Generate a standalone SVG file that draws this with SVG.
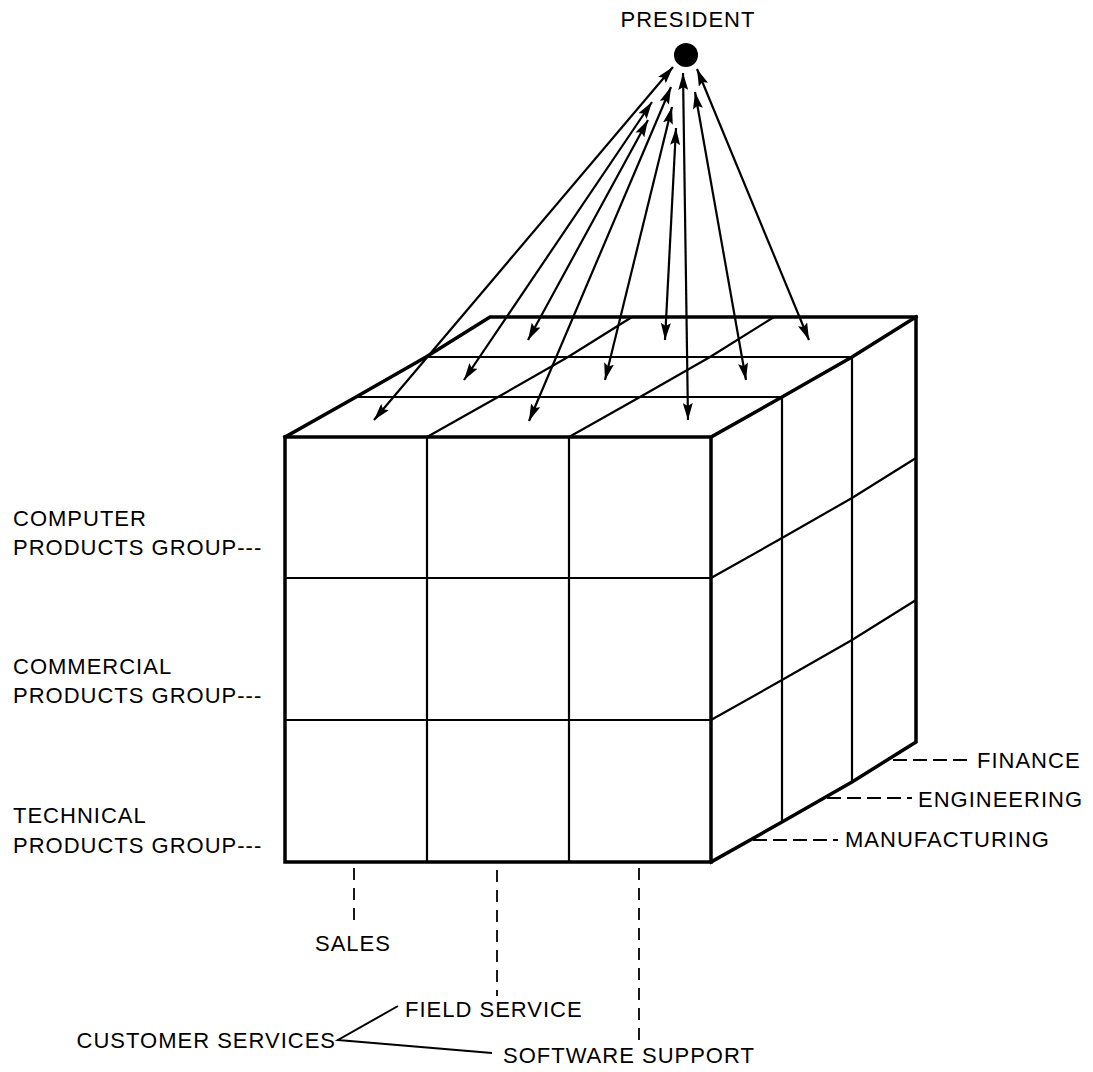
<svg xmlns="http://www.w3.org/2000/svg" width="1093" height="1072" viewBox="0 0 1093 1072">
<style>
  text { font-family: "Liberation Sans", Arial, sans-serif; font-size: 22px; letter-spacing: 1px; fill: #000; }
  .thick { fill: none; stroke: #000; stroke-width: 3.5; stroke-linejoin: miter; stroke-linecap: square; }
  .thin { fill: none; stroke: #000; stroke-width: 2.2; }
  .arrow { fill: none; stroke: #000; stroke-width: 2.2; marker-start: url(#ah); marker-end: url(#ah); }
  .dash { fill: none; stroke: #000; stroke-width: 1.8; stroke-dasharray: 12 8; }
  .dashh { fill: none; stroke: #000; stroke-width: 1.8; stroke-dasharray: 14 6; }
  .leader { fill: none; stroke: #000; stroke-width: 2; }
</style>
<defs>
  <marker id="ah" viewBox="0 0 17 10" refX="17" refY="5" markerWidth="17" markerHeight="10" markerUnits="userSpaceOnUse" orient="auto-start-reverse">
    <path d="M0,0 L17,5 L0,10 L3,5 z" fill="#000"/>
  </marker>
</defs>
<rect width="1093" height="1072" fill="#fff"/>

<g id="cube">
  <g class="thin">
    <line x1="427" y1="437" x2="427" y2="862"/>
    <line x1="569" y1="437" x2="569" y2="862"/>
    <line x1="285" y1="578" x2="711" y2="578"/>
    <line x1="285" y1="720" x2="711" y2="720"/>
    <line x1="356" y1="397" x2="782" y2="397"/>
    <line x1="426" y1="357" x2="852" y2="357"/>
    <polyline points="427,437 498,397 568,357 632,317"/>
    <polyline points="569,437 640,397 710,357 774,317"/>
    <line x1="782" y1="397" x2="782" y2="822"/>
    <line x1="852" y1="357" x2="852" y2="782"/>
    <polyline points="711,578 782,538 852,498 916,458"/>
    <polyline points="711,720 782,680 852,640 916,600"/>
  </g>
  <g class="thick">
    <rect x="285" y="437" width="426" height="425"/>
    <polyline points="285,437 356,397 426,357 490,317 916,317 916,742 852,782 782,822 711,862"/>
    <polyline points="711,437 782,397 852,357 916,317"/>
  </g>
</g>

<g id="president">
  <circle cx="686" cy="55" r="12" fill="#000"/>
  <text x="688" y="27" text-anchor="middle">PRESIDENT</text>
</g>

<g id="connectors">
  <line class="arrow" x1="673" y1="67" x2="374" y2="420"/>
  <line class="arrow" x1="671" y1="87" x2="529" y2="421"/>
  <line class="arrow" x1="683" y1="73" x2="688" y2="420"/>
  <line class="arrow" x1="652" y1="102" x2="464" y2="380"/>
  <line class="arrow" x1="672" y1="107" x2="605" y2="380"/>
  <line class="arrow" x1="695" y1="92" x2="746" y2="380"/>
  <line class="arrow" x1="648" y1="120" x2="528" y2="340"/>
  <line class="arrow" x1="676" y1="128" x2="665" y2="340"/>
  <line class="arrow" x1="697" y1="69" x2="809" y2="340"/>
  <line class="dash" x1="354" y1="868" x2="354" y2="927"/>
  <line class="dash" x1="497" y1="870" x2="497" y2="996"/>
  <line class="dash" x1="639" y1="868" x2="639" y2="1042"/>
  <line class="dashh" x1="893" y1="760" x2="968" y2="760"/>
  <line class="dashh" x1="827" y1="798" x2="912" y2="798"/>
  <line class="dashh" x1="753" y1="840" x2="838" y2="840"/>
  <polyline class="leader" points="398,1006 338,1040 492,1053"/>
</g>

<g id="label-computer">
  <text x="13" y="526">COMPUTER</text>
  <text x="13" y="555">PRODUCTS GROUP---</text>
</g>
<g id="label-commercial">
  <text x="13" y="674">COMMERCIAL</text>
  <text x="13" y="703">PRODUCTS GROUP---</text>
</g>
<g id="label-technical">
  <text x="13" y="823">TECHNICAL</text>
  <text x="13" y="853">PRODUCTS GROUP---</text>
</g>
<g id="label-finance"><text x="977" y="768">FINANCE</text></g>
<g id="label-engineering"><text x="918" y="807">ENGINEERING</text></g>
<g id="label-manufacturing"><text x="845" y="847">MANUFACTURING</text></g>
<g id="label-sales"><text x="315" y="951">SALES</text></g>
<g id="label-field"><text x="405" y="1017">FIELD SERVICE</text></g>
<g id="label-software"><text x="503" y="1063">SOFTWARE SUPPORT</text></g>
<g id="label-customer"><text x="336" y="1048" text-anchor="end">CUSTOMER SERVICES</text></g>
</svg>
